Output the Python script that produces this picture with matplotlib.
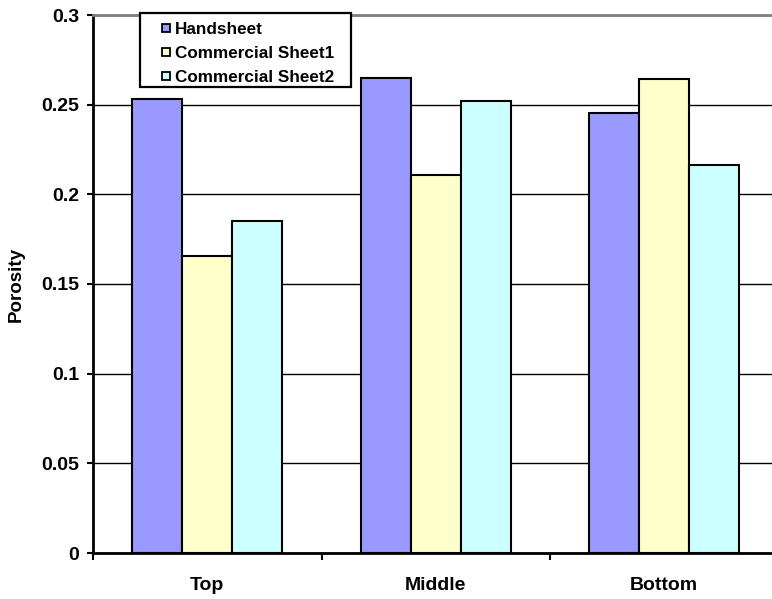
import matplotlib
matplotlib.use('Agg')
import matplotlib.pyplot as plt
import matplotlib.patches as mpatches
from matplotlib.lines import Line2D
import numpy as np

plt.rcParams.update({
    'font.family': ['Liberation Sans', 'DejaVu Sans'],
    'font.weight': 'bold',
})

positions = ['Top', 'Middle', 'Bottom']
series = ['Handsheet', 'Commercial Sheet1', 'Commercial Sheet2']
handsheet = [0.2530, 0.2651, 0.2452]
commercial1 = [0.1658, 0.2106, 0.2642]
commercial2 = [0.1850, 0.2519, 0.2162]
yticks = [0, 0.05, 0.1, 0.15, 0.2, 0.25, 0.3]
ytick_labels = ['0', '0.05', '0.1', '0.15', '0.2', '0.25', '0.3']

colors = ['#9999FF', '#FFFFCC', '#CCFFFF']

W, H = 772, 599
fig = plt.figure(figsize=(W / 100, H / 100), dpi=100)
# plot area runs slightly past the right edge of the canvas
ax = fig.add_axes([93 / W, 1 - 553 / H, (778.5 - 93) / W, 538 / H])

x = np.arange(len(positions))
w = 0.219
for i, (vals, c) in enumerate(zip([handsheet, commercial1, commercial2], colors)):
    ax.bar(x + (i - 1) * w, vals, w, color=c, edgecolor='black',
           linewidth=1.5, zorder=3)

ax.set_xlim(-0.5, 2.5)
ax.set_ylim(0, 0.3)

ax.set_yticks(yticks)
ax.set_yticklabels(ytick_labels)
ax.yaxis.grid(True, color='black', linewidth=1.0, zorder=0)
ax.set_axisbelow(True)
ax.tick_params(axis='y', direction='out', length=4.3, width=1.5, pad=5.5,
               labelsize=14)

ax.set_xticks(x)
ax.set_xticklabels(positions)
ax.set_xticks([-0.5, 0.5, 1.5], minor=True)
ax.tick_params(axis='x', which='major', length=0, pad=17, labelsize=14)
ax.tick_params(axis='x', which='minor', direction='out', length=5, width=1.5)

for s in ['left', 'bottom']:
    ax.spines[s].set_linewidth(2.0)
    ax.spines[s].set_color('black')
ax.spines['top'].set_color('#808080')
ax.spines['top'].set_linewidth(2.0)
ax.spines['right'].set_visible(False)

ax.set_ylabel('Porosity', fontsize=13.5, fontweight='bold')
ax.yaxis.set_label_coords(-0.099, 0.5)

# legend box drawn separately so its margins can be set freely
box = mpatches.Rectangle((140 / W, 1 - 87 / H), 211 / W, 74 / H,
                         transform=fig.transFigure, facecolor='white',
                         edgecolor='black', linewidth=1.6, zorder=4)
fig.patches.append(box)

handles = [Line2D([], [], linestyle='none', marker='s', markersize=6,
                  markerfacecolor=c, markeredgecolor='black',
                  markeredgewidth=1.3) for c in colors]
leg = fig.legend(handles, series, loc='upper left',
                 bbox_to_anchor=(147 / W, 1 - 22 / H),
                 prop={'size': 12.3, 'weight': 'bold'},
                 handlelength=2.2, handletextpad=-0.55,
                 labelspacing=0.52, borderpad=0, borderaxespad=0,
                 frameon=False)
leg.set_zorder(5)

fig.savefig('out.png', dpi=100)
